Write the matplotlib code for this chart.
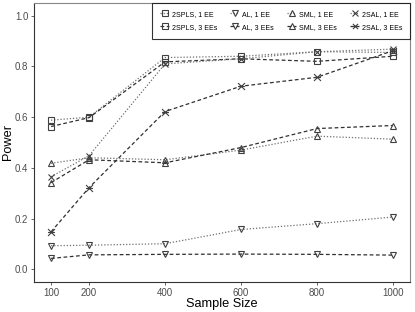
import matplotlib
matplotlib.use("Agg")
import matplotlib.pyplot as plt
from matplotlib.path import Path

plt.rcParams['font.family'] = ['Liberation Sans', 'DejaVu Sans']

sizes = [100, 200, 400, 600, 800, 1000]

spls_1 = [0.588, 0.600, 0.835, 0.840, 0.858, 0.855]
spls_3 = [0.563, 0.598, 0.818, 0.830, 0.820, 0.840]
al_1 = [0.093, 0.095, 0.101, 0.157, 0.180, 0.206]
al_3 = [0.043, 0.057, 0.059, 0.060, 0.059, 0.056]
sml_1 = [0.418, 0.440, 0.432, 0.470, 0.525, 0.513]
sml_3 = [0.342, 0.432, 0.420, 0.480, 0.555, 0.567]
sal_1 = [0.365, 0.448, 0.810, 0.830, 0.858, 0.868]
sal_3 = [0.148, 0.322, 0.622, 0.722, 0.757, 0.862]

labels = ["2SPLS, 1 EE", "2SPLS, 3 EEs", "AL, 1 EE", "AL, 3 EEs",
          "SML, 1 EE", "SML, 3 EEs", "2SAL, 1 EE", "2SAL, 3 EEs"]

# x with a bar through it, like the R shape
star = Path([(-1, -1), (1, 1), (-1, 1), (1, -1), (-1, 0), (1, 0)],
            [Path.MOVETO, Path.LINETO, Path.MOVETO, Path.LINETO, Path.MOVETO, Path.LINETO])

series = [spls_1, spls_3, al_1, al_3, sml_1, sml_3, sal_1, sal_3]
markers = ["s", "s", "v", "v", "^", "^", "x", star]

fig = plt.figure(figsize=(4.15, 3.12), dpi=100)
ax = fig.add_axes([34 / 415, 30 / 312, 376 / 415, 279 / 312])

for i, (ys, m, lab) in enumerate(zip(series, markers, labels)):
    one_ee = (i % 2 == 0)
    col = "#707070" if one_ee else "#303030"
    ls = (0, (1, 1.5)) if one_ee else (0, (3, 2))
    ax.plot(sizes, ys, linestyle=ls, color=col, lw=0.9, marker=m,
            markersize=5, markerfacecolor="none", markeredgecolor="#404040",
            markeredgewidth=0.8, label=lab)

ax.set_xlim(55, 1045)
ax.set_ylim(-0.05, 1.05)
ax.set_xticks(sizes)
ax.set_yticks([0.0, 0.2, 0.4, 0.6, 0.8, 1.0])
ax.set_yticklabels(["0.0", "0.2", "0.4", "0.6", "0.8", "1.0"])
ax.tick_params(labelsize=7, colors="#4d4d4d", length=2.5, width=0.6, pad=1.5)
ax.set_xlabel("Sample Size", fontsize=9.2, labelpad=0.5)
ax.set_ylabel("Power", fontsize=9.2, labelpad=1)

for s in ax.spines.values():
    s.set_color("#888888")
    s.set_linewidth(0.8)
ax.spines["left"].set_color("#333333")
ax.spines["bottom"].set_color("#333333")

leg = ax.legend(loc="upper right", bbox_to_anchor=(1.0, 1.0), ncol=4,
                fontsize=5, frameon=True, fancybox=False, borderaxespad=0,
                handlelength=1.3, handletextpad=0.4, columnspacing=1.9,
                labelspacing=0.9, borderpad=1.1, markerscale=0.75)
leg.get_frame().set_edgecolor("black")
leg.get_frame().set_linewidth(0.8)

fig.savefig("out.png", dpi=100)
